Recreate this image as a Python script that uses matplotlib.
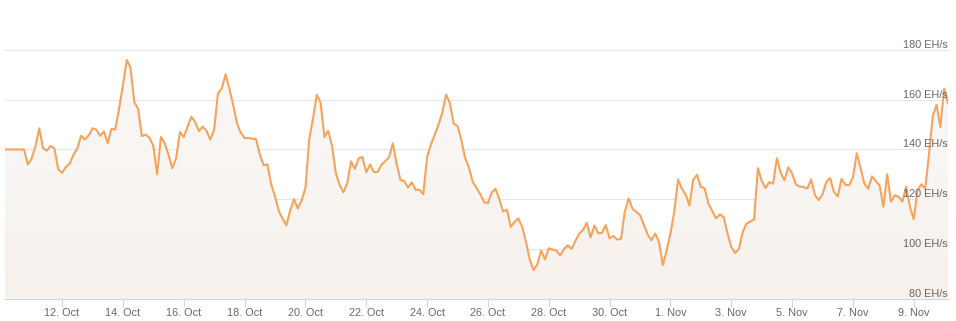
import numpy as np
import pandas as pd
import matplotlib
matplotlib.use("Agg")
import matplotlib.pyplot as plt
import matplotlib.dates as mdates
from matplotlib.transforms import blended_transform_factory

# ---- data: network hashrate (EH/s), sampled every 3 hours ----
start_time = "2021-10-10 03:00"
step = "3h"
hashrate = [
    140.0, 140.0, 140.0, 140.0, 140.0, 140.0, 134.0, 136.3, 141.3, 148.5,
    140.5, 139.5, 141.4, 140.4, 132.0, 130.6, 133.0, 134.3, 137.9, 140.4,
    145.5, 144.0, 145.6, 148.5, 148.0, 145.5, 147.3, 142.5, 148.3, 148.0,
    156.5, 165.7, 176.0, 173.0, 159.0, 156.4, 145.4, 146.0, 144.7, 141.5,
    130.0, 145.0, 142.5, 137.8, 132.4, 136.5, 147.0, 145.0, 149.1, 153.2,
    151.0, 147.4, 149.2, 147.5, 144.0, 148.0, 162.6, 164.5, 170.2, 164.5,
    158.0, 150.5, 146.7, 144.6, 144.6, 144.3, 144.2, 138.0, 133.7, 134.0,
    126.0, 121.2, 115.3, 112.2, 109.5, 115.5, 120.0, 116.3, 119.5, 124.3,
    144.0, 152.5, 162.0, 158.8, 145.0, 147.5, 141.5, 130.5, 125.7, 122.8,
    126.5, 135.2, 132.2, 136.4, 137.0, 130.8, 134.0, 130.9, 131.0, 133.8,
    135.3, 136.9, 142.5, 134.2, 127.7, 127.3, 124.7, 126.8, 123.8, 123.8,
    122.0, 137.0, 142.0, 145.9, 150.0, 154.8, 162.1, 158.6, 150.4, 149.5,
    143.8, 136.6, 132.8, 127.0, 124.6, 122.0, 118.8, 118.4, 122.7, 124.2,
    120.0, 115.0, 115.8, 108.8, 110.9, 112.2, 109.0, 103.0, 95.8, 91.5,
    93.8, 99.4, 95.8, 100.3, 99.7, 99.4, 97.4, 100.0, 101.5, 100.0,
    103.2, 106.2, 107.6, 110.5, 104.6, 109.4, 106.3, 106.5, 109.6, 104.3,
    105.2, 103.8, 104.0, 115.0, 120.3, 116.3, 114.9, 113.6, 109.8, 105.8,
    103.5, 106.2, 102.8, 93.5, 99.3, 106.2, 114.9, 128.0, 124.3, 121.9,
    117.5, 127.9, 129.8, 124.9, 124.4, 118.2, 115.3, 112.3, 113.9, 112.8,
    106.3, 100.8, 98.4, 100.0, 106.8, 110.2, 111.0, 112.0, 132.5, 127.4,
    124.5, 126.9, 126.3, 136.5, 130.6, 127.6, 132.8, 130.4, 125.9, 125.1,
    124.9, 124.3, 128.0, 121.7, 119.6, 122.0, 127.0, 128.5, 122.9, 121.1,
    128.2, 125.8, 125.6, 128.8, 138.5, 132.6, 126.3, 124.2, 129.2, 127.3,
    125.6, 117.0, 130.0, 119.0, 121.6, 121.0, 119.0, 125.0, 116.8, 112.0,
    123.7, 126.0, 124.3, 138.0, 153.5, 158.0, 149.0, 164.5, 158.5,
]
y_ticks = [80, 100, 120, 140, 160, 180]
y_unit = "EH/s"
x_tick_start = "2021-10-12"
x_tick_step = "2D"

times = pd.date_range(start_time, periods=len(hashrate), freq=step)
values = np.array(hashrate)

# ---- styling ----
LINE = "#f7a35c"
GRID = "#e6e6e6"
AXIS = "#ccd6eb"
TEXT = "#666666"
plt.rcParams["font.family"] = ["Liberation Sans", "DejaVu Sans"]

W, H = 956, 321
fig = plt.figure(figsize=(W / 100, H / 100), dpi=100)
left, right, top, bottom = 5, 948, 50, 298.7
ax = fig.add_axes([left / W, (H - bottom) / H, (right - left) / W, (bottom - top) / H])

x = mdates.date2num(times)
ax.set_xlim(x[0], x[-1])
ax.set_ylim(min(y_ticks), max(y_ticks))

# gradient area fill clipped to the area under the line
poly = ax.fill_between(x, values, min(y_ticks), color="none", lw=0)
grad = np.linspace(0, 1, 256).reshape(-1, 1)
c_top = np.array([0.968, 0.945, 0.925])
c_bot = np.array([0.978, 0.975, 0.972])
img = c_top[None, None, :] * (1 - grad[:, :, None]) + c_bot[None, None, :] * grad[:, :, None]
im = ax.imshow(img, extent=[x[0], x[-1], max(values), min(y_ticks)], aspect="auto",
               origin="upper", zorder=1)
path = poly.get_paths()[0]
im.set_clip_path(path, transform=ax.transData)

ax.plot(x, values, color=LINE, lw=1.5, zorder=3, solid_joinstyle="round")

# grid lines and y labels
trans = blended_transform_factory(ax.transAxes, ax.transData)
for v in y_ticks:
    if v != min(y_ticks):
        ax.axhline(v, color=GRID, lw=0.8, zorder=0.5, clip_on=False)
    ax.annotate(f"{v} {y_unit}", xy=(1.0, v), xycoords=trans, xytext=(0, 1.5),
                textcoords="offset points", ha="right", va="baseline",
                fontsize=7.8, color=TEXT, zorder=4)

for s in ["top", "left", "right"]:
    ax.spines[s].set_visible(False)
ax.spines["bottom"].set_color(AXIS)
ax.spines["bottom"].set_linewidth(0.8)
ax.set_yticks([])

tick_dates = pd.date_range(x_tick_start, times[-1], freq=x_tick_step)
ax.set_xticks(mdates.date2num(tick_dates))
ax.set_xticklabels([f"{d.day}. {d.strftime('%b')}" for d in tick_dates])
ax.tick_params(axis="x", length=6, width=0.8, color=AXIS, pad=0.5,
               labelsize=7.8, labelcolor=TEXT)

fig.savefig("out.png", dpi=100)
